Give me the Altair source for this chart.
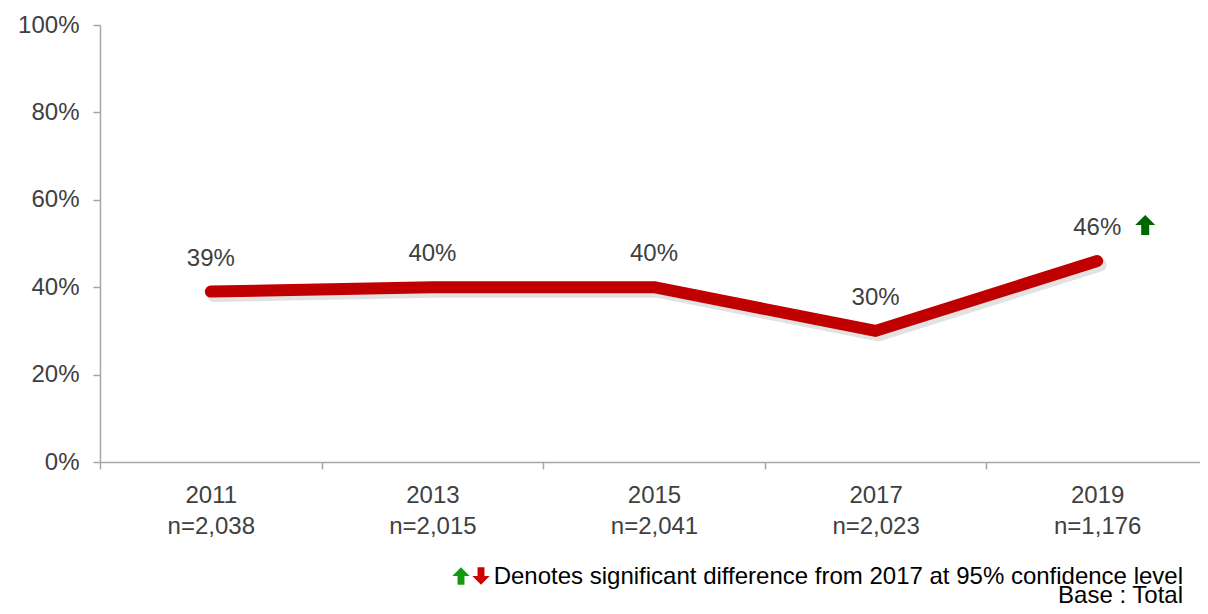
import altair as alt
import pandas as pd

years = ["2011", "2013", "2015", "2017", "2019"]
bases = ["n=2,038", "n=2,015", "n=2,041", "n=2,023", "n=1,176"]
values = [0.39, 0.40, 0.40, 0.30, 0.46]
value_labels = ["39%", "40%", "40%", "30%", "46%"]
sig_up = [False, False, False, False, True]

y_ticks = [0, 0.2, 0.4, 0.6, 0.8, 1.0]
note_text = "Denotes significant difference from 2017 at 95% confidence level"
base_text = "Base : Total"

FONT = "Liberation Sans"
NOTE_FONT = "Liberation Sans Narrow, Liberation Sans"
TXT = "#404040"
AXC = "#A6A6A6"

labs = [f"{y}|{b}" for y, b in zip(years, bases)]
df = pd.DataFrame({"lab": labs, "value": values, "label": value_labels, "up": sig_up})

x = alt.X("lab:N", sort=labs, title=None,
          scale=alt.Scale(paddingInner=0, paddingOuter=0, range=[0, 1108]),
          axis=alt.Axis(labelExpr="split(datum.label, '|')", labelAngle=0,
                        labelFont=FONT, labelFontSize=24, labelColor=TXT,
                        labelLineHeight=31, labelPadding=14, tickBand="extent",
                        tickSize=7, tickColor=AXC, domainColor=AXC,
                        domainWidth=1.5, tickWidth=1.5, grid=False))
y = alt.Y("value:Q", title=None,
          scale=alt.Scale(domain=[0, 1], nice=False),
          axis=alt.Axis(values=y_ticks, format=".0%", labelFont=FONT,
                        labelFontSize=24, labelColor=TXT, labelPadding=14,
                        tickSize=7, tickColor=AXC, domainColor=AXC,
                        domainWidth=1.5, tickWidth=1.5, grid=False))

base = alt.Chart(df)

shadow = base.mark_line(color="#707070", opacity=0.2, strokeWidth=13,
                        strokeCap="round", strokeJoin="round",
                        xOffset=3, yOffset=4).encode(x=x, y=y)
line = base.mark_line(color="#C00000", strokeWidth=12, strokeCap="round",
                      strokeJoin="round").encode(x=x, y=y)
labels = base.mark_text(font=FONT, fontSize=24, color=TXT, dy=-33,
                        baseline="middle").encode(x=x, y=y, text="label:N")

up_path = "M0,-1 L1,0 L0.4,0 L0.4,1 L-0.4,1 L-0.4,0 L-1,0 Z"
down_path = "M0,1 L1,0 L0.4,0 L0.4,-1 L-0.4,-1 L-0.4,0 L-1,0 Z"

arrow = base.transform_filter("datum.up").mark_point(
    shape=up_path, filled=True, color="#006600", size=400, opacity=1,
    xOffset=48, yOffset=-36).encode(x=x, y=y)

note_df = pd.DataFrame({"t": [note_text]})
base_df = pd.DataFrame({"t": [base_text]})

note = alt.Chart(note_df).mark_text(font=NOTE_FONT, fontSize=24, color="#000000",
                                    align="right", baseline="alphabetic").encode(
    x=alt.value(1083), y=alt.value(559), text="t:N")
base_note = alt.Chart(base_df).mark_text(font=NOTE_FONT, fontSize=24, color="#000000",
                                         align="right", baseline="alphabetic").encode(
    x=alt.value(1083), y=alt.value(578), text="t:N")
leg_up = alt.Chart(note_df).mark_point(shape=up_path, filled=True, color="#109A10",
                                       size=300, opacity=1).encode(
    x=alt.value(361), y=alt.value(551))
leg_down = alt.Chart(note_df).mark_point(shape=down_path, filled=True, color="#D00000",
                                         size=300, opacity=1).encode(
    x=alt.value(381), y=alt.value(551))

chart = alt.layer(shadow, line, labels, arrow, note, base_note, leg_up, leg_down).properties(
    width=1100, height=437,
    autosize=alt.AutoSizeParams(type="none"),
    padding={"left": 92, "top": 17, "right": 0, "bottom": 144},
    background="white",
).configure_view(strokeWidth=0)

chart.save("out.html", embed_options={"renderer": "svg", "actions": False})
